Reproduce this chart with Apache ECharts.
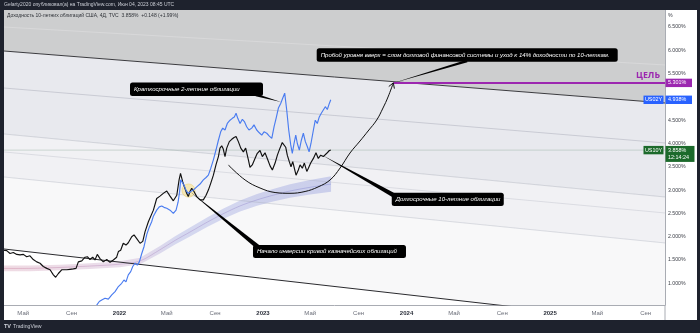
<!DOCTYPE html>
<html>
<head>
<meta charset="utf-8">
<title>US10Y / US02Y</title>
<script src="https://cdn.jsdelivr.net/npm/echarts@6/dist/echarts.min.js"></script>
<style>
  html, body { margin: 0; padding: 0; background: #1e222d; }
  #chart { width: 700px; height: 333px; }
</style>
</head>
<body>
<div id="chart"></div>
<script>
// Time is expressed in fractional years on a value axis.
const X_MIN = 2021.195, X_MAX = 2025.801;
const Y_MIN = 0.534, Y_MAX = 6.865;

// Time-scale tick labels (Jan = year, May, Sep)
const xTickValues = [2021.329, 2021.666, 2022, 2022.329, 2022.666, 2023, 2023.329, 2023.666, 2024, 2024.331, 2024.667, 2025, 2025.329, 2025.666];
const xTickLabels = ['Май', 'Сен', '2022', 'Май', 'Сен', '2023', 'Май', 'Сен', '2024', 'Май', 'Сен', '2025', 'Май', 'Сен'];
// Price-scale labels (5.000% sits under the US02Y tag)
const yTickValues = [1, 1.5, 2, 2.5, 3, 3.5, 4, 4.5, 5.5, 6, 6.5];

// US 10-year yield, 4D bars
const us10yT = [2021.190,2021.214,2021.237,2021.260,2021.284,2021.307,2021.330,2021.353,2021.376,2021.399,
  2021.423,2021.446,2021.469,2021.493,2021.516,2021.539,2021.555,2021.574,2021.597,2021.608,
  2021.632,2021.655,2021.678,2021.697,2021.713,2021.737,2021.760,2021.776,2021.794,2021.813,
  2021.829,2021.845,2021.864,2021.887,2021.911,2021.934,2021.957,2021.980,2021.992,2022.008,
  2022.026,2022.045,2022.061,2022.085,2022.101,2022.120,2022.143,2022.162,2022.178,2022.201,
  2022.236,2022.259,2022.282,2022.305,2022.329,2022.352,2022.375,2022.399,2022.415,2022.425,
  2022.440,2022.452,2022.468,2022.479,2022.491,2022.503,2022.519,2022.538,2022.561,2022.584,
  2022.603,2022.619,2022.636,2022.654,2022.672,2022.689,2022.700,2022.712,2022.723,2022.735,
  2022.747,2022.765,2022.782,2022.798,2022.812,2022.828,2022.845,2022.863,2022.879,2022.898,
  2022.909,2022.925,2022.944,2022.960,2022.979,2022.995,2023.014,2023.033,2023.049,2023.065,
  2023.084,2023.100,2023.118,2023.134,2023.146,2023.158,2023.169,2023.183,2023.195,2023.207,
  2023.218,2023.230,2023.246,2023.258,2023.274,2023.288,2023.305,2023.316,2023.332,2023.351,
  2023.369,2023.385,2023.402,2023.420,2023.444,2023.462,2023.472];
const us10yV = [1.71,1.70,1.64,1.66,1.62,1.61,1.62,1.57,1.59,1.51,
  1.46,1.43,1.36,1.32,1.29,1.18,1.13,1.21,1.29,1.25,
  1.29,1.30,1.31,1.32,1.46,1.48,1.56,1.57,1.51,1.56,
  1.50,1.62,1.53,1.46,1.51,1.45,1.50,1.56,1.68,1.71,
  1.86,1.82,1.87,2.00,2.04,1.96,1.86,1.90,2.11,2.32,
  2.57,2.82,2.87,2.93,2.98,2.87,2.77,2.89,3.22,3.36,
  3.18,3.07,2.93,2.86,2.97,3.04,2.97,2.86,2.79,2.79,
  2.89,3.00,3.15,3.32,3.54,3.72,3.90,3.95,3.88,3.72,
  3.90,4.04,4.09,4.13,4.15,4.04,3.90,3.82,3.90,3.65,
  3.49,3.54,3.68,3.79,3.85,3.72,3.80,3.65,3.52,3.43,
  3.58,3.75,3.90,4.02,4.04,3.92,3.75,3.61,3.50,3.61,
  3.47,3.32,3.43,3.54,3.47,3.58,3.40,3.47,3.58,3.68,
  3.80,3.68,3.75,3.72,3.79,3.85,3.858];

// US 2-year yield
const us02yT = [2021.841,2021.859,2021.876,2021.899,2021.922,2021.946,2021.969,2021.992,2022.015,2022.031,
  2022.045,2022.061,2022.078,2022.092,2022.108,2022.124,2022.138,2022.155,2022.171,2022.190,
  2022.208,2022.224,2022.236,2022.259,2022.277,2022.294,2022.310,2022.329,2022.352,2022.375,
  2022.394,2022.408,2022.418,2022.426,2022.436,2022.449,2022.463,2022.479,2022.496,2022.514,
  2022.538,2022.561,2022.584,2022.603,2022.619,2022.636,2022.654,2022.672,2022.689,2022.705,
  2022.719,2022.735,2022.751,2022.770,2022.786,2022.800,2022.812,2022.824,2022.840,2022.856,
  2022.870,2022.886,2022.902,2022.921,2022.937,2022.956,2022.974,2022.991,2023.007,2023.026,
  2023.044,2023.061,2023.077,2023.091,2023.107,2023.123,2023.137,2023.151,2023.165,2023.179,
  2023.193,2023.204,2023.216,2023.228,2023.239,2023.253,2023.267,2023.281,2023.295,2023.309,
  2023.321,2023.334,2023.351,2023.364,2023.378,2023.392,2023.406,2023.420,2023.434,2023.448,
  2023.462,2023.472];
const us02yV = [0.53,0.61,0.64,0.68,0.66,0.75,0.82,0.93,1.00,1.07,
  1.03,1.18,1.25,1.36,1.43,1.39,1.46,1.64,1.79,2.05,
  2.21,2.32,2.44,2.57,2.64,2.66,2.63,2.61,2.57,2.50,
  2.57,2.74,2.95,3.22,3.25,3.11,3.00,2.93,2.97,3.00,
  3.07,3.13,3.22,3.27,3.32,3.47,3.65,3.86,4.07,4.25,
  4.33,4.29,4.43,4.50,4.54,4.57,4.65,4.54,4.43,4.52,
  4.47,4.36,4.29,4.33,4.40,4.29,4.23,4.18,4.25,4.22,
  4.16,4.11,4.36,4.54,4.76,4.86,4.97,5.08,4.72,4.29,
  3.97,3.79,4.00,4.18,4.00,3.86,4.07,4.22,4.04,3.93,
  3.82,4.00,4.29,4.50,4.43,4.57,4.65,4.72,4.79,4.73,
  4.86,4.938];

// Moving-average ribbon: centre and half-width
const ribbonT = [2021.195,2021.376,2021.585,2021.794,2022.003,2022.143,2022.282,2022.387,2022.491,2022.610,2022.721,2022.840,2022.958,2023.070,2023.188,2023.328,2023.474];
const ribbonMid = [1.32,1.32,1.34,1.37,1.41,1.48,1.72,1.92,2.10,2.31,2.49,2.66,2.79,2.89,2.98,3.06,3.13];
const ribbonHalf = [0.06,0.06,0.06,0.062,0.065,0.07,0.08,0.088,0.095,0.102,0.11,0.118,0.125,0.135,0.145,0.155,0.165];

// Target level and the projected arc towards it
const TARGET = 5.301;
const arcT = [2022.758,2022.875,2022.979,2023.084,2023.188,2023.293,2023.383,2023.467,2023.537,2023.606,2023.676,2023.732,2023.792,2023.836,2023.871,2023.908];
const arcV = [3.539,3.217,3.045,2.948,2.931,2.970,3.067,3.217,3.474,3.796,4.054,4.268,4.504,4.762,4.998,5.301];

// Channel / trend lines: [t0, v0, t1, v1]
const trendTop    = [2021.195, 5.985, 2025.801, 4.869];
const trendBottom = [2021.195, 1.736, 2025.801, 0.127];
const chanHigh    = [2021.195, 6.500, 2025.801, 5.685];
const chanA       = [2021.195, 5.191, 2025.801, 4.011];
const chanB       = [2021.195, 4.204, 2025.801, 2.852];
const chanD       = [2021.195, 3.818, 2025.801, 2.509];
const chanC       = [2021.195, 3.281, 2025.801, 1.865];

const inversionPoint = [2022.481, 2.99];

const last10 = us10yV[us10yV.length - 1];
const last02 = us02yV[us02yV.length - 1];

const FONT = '"Liberation Sans", Arial, sans-serif';

// Callout boxes: anchor (top-left) and tail in data space, box size in px
const notes = [
  { text: 'Краткосрочные 2-летние облигации', at: [2022.073, 5.309], w: 133, h: 13.5,
    base: [2022.951, 5.041], tip: [2023.125, 4.891], tail: 1.4 },
  { text: 'Пробой уровня вверх = слом долговой финансовой системы и уход к 14% доходности по 10-леткам.', at: [2023.374, 6.043], w: 301, h: 13.4,
    base: [2024.422, 5.770], tip: [2023.908, 5.301], tail: 1.3 },
  { text: 'Долгосрочные 10-летние облигации', at: [2023.897, 2.944], w: 112, h: 13.3,
    base: [2023.920, 2.873], tip: [2023.411, 3.753], tail: 2.4 },
  { text: 'Начало инверсии кривой казначейских облигаций', at: [2022.930, 1.822], w: 153, h: 13,
    base: [2022.965, 1.779], tip: [2022.491, 2.970], tail: 2.4 }
];

const pair = (ts, vs) => ts.map((t, i) => [t, vs[i]]);
const lineAt = (L, t) => L[1] + (L[3] - L[1]) * (t - L[0]) / (L[2] - L[0]);
const clampV = v => Math.max(Y_MIN, Math.min(Y_MAX, v));

function renderZones(params, api) {
  const N = 80, ts = [];
  for (let i = 0; i <= N; i++) ts.push(X_MIN + (X_MAX - X_MIN) * i / N);
  const band = (upper, lower, fill) => {
    const top = ts.map(t => api.coord([t, clampV(upper(t))]));
    const bot = ts.slice().reverse().map(t => api.coord([t, clampV(lower(t))]));
    return { type: 'polygon', silent: true, shape: { points: top.concat(bot) }, style: { fill: fill } };
  };
  return {
    type: 'group',
    children: [
      band(() => Y_MAX, t => lineAt(trendTop, t), '#cdcecf'),
      band(t => lineAt(trendTop, t), t => lineAt(chanB, t), '#e8e9ee'),
      band(t => lineAt(chanB, t), t => lineAt(chanC, t), '#f1f1f4'),
      band(t => lineAt(chanC, t), t => lineAt(trendBottom, t), '#f8f8f9')
    ]
  };
}

function renderRibbon(params, api) {
  const up = ribbonT.map((t, i) => api.coord([t, ribbonMid[i] + ribbonHalf[i]]));
  const lo = ribbonT.map((t, i) => api.coord([t, ribbonMid[i] - ribbonHalf[i]])).reverse();
  const mid = ribbonT.map((t, i) => api.coord([t, ribbonMid[i]]));
  const x0 = up[0][0], x1 = up[up.length - 1][0];
  const bend = (ribbonT[5] - ribbonT[0]) / (ribbonT[ribbonT.length - 1] - ribbonT[0]);
  const fill = new echarts.graphic.LinearGradient(x0, 0, x1, 0, [
    { offset: 0, color: 'rgba(214,160,182,0.38)' },
    { offset: bend, color: 'rgba(196,168,208,0.38)' },
    { offset: Math.min(1, bend + 0.12), color: 'rgba(150,158,222,0.36)' },
    { offset: 1, color: 'rgba(140,150,220,0.38)' }
  ], true);
  const stroke = new echarts.graphic.LinearGradient(x0, 0, x1, 0, [
    { offset: 0, color: 'rgba(200,120,150,0.55)' },
    { offset: bend, color: 'rgba(170,130,190,0.55)' },
    { offset: 1, color: 'rgba(120,130,210,0.6)' }
  ], true);
  return {
    type: 'group',
    children: [
      { type: 'polygon', silent: true, shape: { points: up.concat(lo), smooth: 0 }, style: { fill: fill } },
      { type: 'polyline', silent: true, shape: { points: mid, smooth: 0.3 }, style: { stroke: stroke, lineWidth: 0.7, fill: null } }
    ]
  };
}

function renderHighlight(params, api) {
  const c = api.coord(inversionPoint);
  return {
    type: 'circle', silent: true,
    shape: { cx: c[0], cy: c[1], r: 6.6 },
    style: { fill: 'rgba(248,226,140,0.6)', stroke: 'rgba(236,206,110,0.9)', lineWidth: 0.6 }
  };
}

function renderNotes(params, api) {
  const kids = [];
  // arrowhead at the end of the projected arc
  const n = arcT.length;
  const p1 = api.coord([arcT[n - 1], arcV[n - 1]]);
  const p0 = api.coord([arcT[n - 2], arcV[n - 2]]);
  let dx = p1[0] - p0[0], dy = p1[1] - p0[1];
  let len = Math.hypot(dx, dy) || 1; dx /= len; dy /= len;
  const ax = -dy, ay = dx;
  kids.push({ type: 'polyline', silent: true,
    shape: { points: [[p1[0] - dx * 5 + ax * 3, p1[1] - dy * 5 + ay * 3], p1, [p1[0] - dx * 5 - ax * 3, p1[1] - dy * 5 - ay * 3]] },
    style: { stroke: '#111', lineWidth: 1, fill: null } });

  notes.forEach(note => {
    const corner = api.coord(note.at);
    const tip = api.coord(note.tip), base = api.coord(note.base);
    const tx = tip[0] - base[0], ty = tip[1] - base[1];
    const tl = Math.hypot(tx, ty) || 1;
    const nx = -ty / tl * note.tail, ny = tx / tl * note.tail;
    kids.push({ type: 'polygon', silent: true,
      shape: { points: [tip, [base[0] + nx, base[1] + ny], [base[0] - nx, base[1] - ny]] },
      style: { fill: '#000' } });
    kids.push({ type: 'rect', silent: true,
      shape: { x: corner[0], y: corner[1], width: note.w, height: note.h, r: 2.5 },
      style: { fill: '#000' } });
    kids.push({ type: 'text', silent: true,
      style: { text: note.text, x: corner[0] + 4, y: corner[1] + note.h / 2, align: 'left', verticalAlign: 'middle',
        fill: '#ffffff', fontSize: 6.05, fontStyle: 'italic', fontFamily: FONT } });
  });
  return { type: 'group', children: kids };
}

function renderTags(params, api) {
  const kids = [];
  const right = api.coord([X_MAX, Y_MIN])[0];
  const tags = [
    { v: TARGET, color: '#9c27b0' },
    { v: last02, color: '#2962ff', name: 'US02Y' },
    { v: last10, color: '#1c6a2b', name: 'US10Y', sub: '12:14:24' }
  ];
  tags.forEach(tg => {
    const y = api.coord([X_MAX, tg.v])[1];
    const h = tg.sub ? 16 : 8.4;
    const top = y - 4.2;
    kids.push({ type: 'rect', silent: true, shape: { x: right + 0.5, y: top, width: tg.sub ? 29 : 26.5, height: h }, style: { fill: tg.color } });
    kids.push({ type: 'text', silent: true, style: { text: tg.v.toFixed(3) + '%', x: right + 3, y: y, verticalAlign: 'middle', fill: '#fff', fontSize: 5.4, fontFamily: FONT } });
    if (tg.sub) {
      kids.push({ type: 'text', silent: true, style: { text: tg.sub, x: right + 3, y: y + 7.8, verticalAlign: 'middle', fill: '#fff', fontSize: 5.4, fontFamily: FONT } });
    }
    if (tg.name) {
      kids.push({ type: 'rect', silent: true, shape: { x: right - 21.5, y: top, width: 20, height: 8.4 }, style: { fill: tg.color } });
      kids.push({ type: 'text', silent: true, style: { text: tg.name, x: right - 11.5, y: y, align: 'center', verticalAlign: 'middle', fill: '#fff', fontSize: 5.4, fontFamily: FONT } });
    }
  });
  const yT = api.coord([X_MAX, TARGET])[1];
  kids.push({ type: 'text', silent: true, style: { text: 'ЦЕЛЬ', x: right - 5, y: yT - 2.5, align: 'right', verticalAlign: 'bottom',
    fill: '#9c27b0', fontSize: 8.8, fontWeight: 'bold', fontFamily: '"Open Sans", ' + FONT } });
  return { type: 'group', children: kids };
}

const seg = (L, color, width, z) => ({
  type: 'line', data: [[L[0], L[1]], [L[2], L[3]]], symbol: 'none', silent: true, z: z, clip: true,
  lineStyle: { color: color, width: width }
});

const chart = echarts.init(document.getElementById('chart'), null, { renderer: 'canvas' });

chart.setOption({
  animation: false,
  backgroundColor: '#ffffff',
  grid: { left: 4, right: 35, top: 10, bottom: 28, containLabel: false, outerBoundsMode: 'none' },
  xAxis: {
    type: 'value', min: X_MIN, max: X_MAX,
    splitLine: { show: false },
    axisTick: { show: false },
    axisLine: { show: true, onZero: false, lineStyle: { color: '#a9acb3', width: 1 } },
    axisLabel: {
      customValues: xTickValues,
      margin: 5,
      formatter: v => {
        let k = 0, best = Infinity;
        xTickValues.forEach((tv, i) => { const d = Math.abs(tv - v); if (d < best) { best = d; k = i; } });
        const s = xTickLabels[k];
        return /^\d{4}$/.test(s) ? '{y|' + s + '}' : '{m|' + s + '}';
      },
      rich: {
        y: { fontWeight: 'bold', color: '#2a2e39', fontSize: 6, fontFamily: FONT },
        m: { color: '#6a6d78', fontSize: 6, fontFamily: FONT }
      }
    }
  },
  yAxis: {
    type: 'value', position: 'right', min: Y_MIN, max: Y_MAX,
    splitLine: { show: false },
    axisTick: { show: false },
    axisLine: { show: true, onZero: false, lineStyle: { color: '#a9acb3', width: 1 } },
    axisLabel: {
      customValues: yTickValues,
      margin: 3,
      fontSize: 5.2, color: '#3a3d45', fontFamily: FONT,
      formatter: v => v.toFixed(3) + '%'
    }
  },
  graphic: [
    { type: 'rect', z: 100, silent: true, shape: { x: 0, y: 0, width: 700, height: 10 }, style: { fill: '#1e222d' } },
    { type: 'rect', z: 100, silent: true, shape: { x: 0, y: 320, width: 700, height: 13 }, style: { fill: '#1e222d' } },
    { type: 'rect', z: 100, silent: true, shape: { x: 0, y: 0, width: 4, height: 333 }, style: { fill: '#1e222d' } },
    { type: 'rect', z: 100, silent: true, shape: { x: 697, y: 0, width: 3, height: 333 }, style: { fill: '#1e222d' } },
    { type: 'line', z: 100, silent: true, shape: { x1: 665, y1: 305, x2: 665, y2: 320 }, style: { stroke: '#a9acb3', lineWidth: 1 } },
    { type: 'text', z: 101, silent: true, x: 4, y: 5,
      style: { text: 'Gelarty2020 опубликовал(а) на TradingView.com, Июн 04, 2023 08:45 UTC', fill: '#c9ccd4', fontSize: 5, fontFamily: FONT, verticalAlign: 'middle' } },
    { type: 'text', z: 101, silent: true, x: 7, y: 16,
      style: { text: 'Доходность 10-летних облигаций США, 4Д, TVC  ' + last10.toFixed(3) + '%  +0.148 (+1.99%)', fill: '#2f3238', fontSize: 5, fontFamily: FONT, verticalAlign: 'middle' } },
    { type: 'text', z: 101, silent: true, x: 668, y: 16,
      style: { text: '%', fill: '#3a3d45', fontSize: 5.2, fontFamily: FONT, verticalAlign: 'middle' } },
    { type: 'text', z: 101, silent: true, x: 4, y: 326.5,
      style: { text: 'TV', fill: '#d1d4dc', fontSize: 5.5, fontWeight: 'bold', fontFamily: FONT, verticalAlign: 'middle' } },
    { type: 'text', z: 101, silent: true, x: 13, y: 326.5,
      style: { text: 'TradingView', fill: '#c9ccd4', fontSize: 5.2, fontFamily: FONT, verticalAlign: 'middle' } }
  ],
  series: [
    { type: 'custom', name: 'zones', z: 1, silent: true, clip: true, data: [[X_MIN, Y_MIN]], renderItem: renderZones },
    { type: 'custom', name: 'ribbon', z: 2, silent: true, clip: true, data: [[X_MIN, Y_MIN]], renderItem: renderRibbon },
    seg(chanHigh, '#dadadc', 0.8, 3),
    seg(chanA, 'rgba(160,164,178,0.55)', 0.8, 3),
    seg(chanB, 'rgba(160,164,178,0.5)', 0.8, 3),
    seg(chanD, 'rgba(160,164,178,0.35)', 0.8, 3),
    seg(chanC, 'rgba(160,164,178,0.45)', 0.8, 3),
    seg(trendTop, '#3b3b3f', 1, 3),
    seg(trendBottom, '#2a2a2e', 1, 3),
    seg([X_MIN, last10, X_MAX, last10], 'rgba(150,175,160,0.55)', 0.8, 3),
    { type: 'custom', name: 'inversion', z: 4, silent: true, clip: true, data: [[X_MIN, Y_MIN]], renderItem: renderHighlight },
    { type: 'line', name: 'US10Y', data: pair(us10yT, us10yV), symbol: 'none', z: 5, clip: true,
      lineStyle: { color: '#111111', width: 1.15 } },
    { type: 'line', name: 'US02Y', data: pair(us02yT, us02yV), symbol: 'none', z: 5, clip: true,
      lineStyle: { color: '#4a7cf0', width: 1.15 } },
    { type: 'line', name: 'arc', data: pair(arcT, arcV), symbol: 'none', smooth: 0.4, z: 6, clip: true, silent: true,
      lineStyle: { color: '#111111', width: 1 } },
    { type: 'line', name: 'target', data: [[arcT[arcT.length - 1], TARGET], [X_MAX, TARGET]], symbol: 'none', z: 6, silent: true,
      lineStyle: { color: '#9c27b0', width: 2 } },
    { type: 'custom', name: 'notes', z: 8, silent: true, clip: false, data: [[X_MIN, Y_MIN]], renderItem: renderNotes },
    { type: 'custom', name: 'tags', z: 9, silent: true, clip: false, data: [[X_MIN, Y_MIN]], renderItem: renderTags }
  ]
});
</script>
</body>
</html>
